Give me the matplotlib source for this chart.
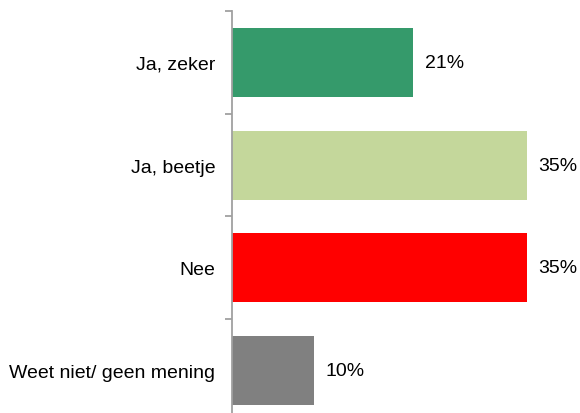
import numpy as np
import matplotlib.pyplot as plt

categories = ["Ja, zeker", "Ja, beetje", "Nee", "Weet niet/ geen mening"]
values = [21.5, 35, 35, 9.7]
value_labels = ["21%", "35%", "35%", "10%"]
colors = ["#359A6B", "#C4D79B", "#FF0000", "#808080"]

plt.rcParams['font.family'] = ['Liberation Sans', 'DejaVu Sans']

fig = plt.figure(figsize=(5.8, 4.14), dpi=100)
ax = fig.add_axes([0.4, -0.0217, 0.6, 0.9928])

pos = np.arange(len(categories))
ax.barh(pos, values, height=0.67, color=colors)

for p, v, lab in zip(pos, values, value_labels):
    ax.text(v + 1.4, p, lab, va="center", ha="left", fontsize=14)

ax.set_xlim(0, 41.3)
ax.set_ylim(len(categories) - 0.5, -0.5)

# tick marks sit on the category boundaries, labels in between
ax.set_yticks(np.arange(-0.5, len(categories), 1.0))
ax.set_yticklabels([])
ax.set_yticks(pos, minor=True)
ax.set_yticklabels(categories, minor=True, fontsize=14)
ax.tick_params(axis="y", which="major", length=5, width=1.3, color="#A0A0A0", direction="out")
ax.tick_params(axis="y", which="minor", length=0, pad=12)

ax.set_xticks([])
for side in ["top", "right", "bottom"]:
    ax.spines[side].set_visible(False)
ax.spines["left"].set_color("#A0A0A0")
ax.spines["left"].set_linewidth(1.3)

fig.savefig("out.png", dpi=100)
